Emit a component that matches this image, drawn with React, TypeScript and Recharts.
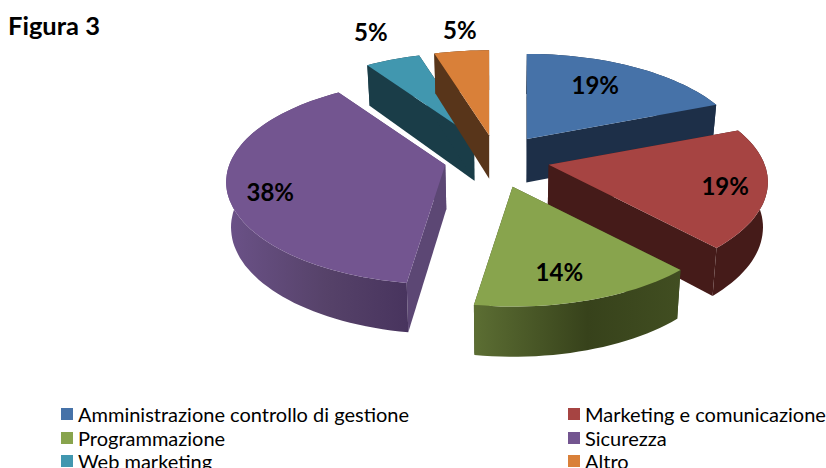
import React from "react";
import { PieChart, Pie, Legend } from "recharts";

const categories = ["Amministrazione controllo di gestione", "Marketing e comunicazione", "Programmazione", "Sicurezza", "Web marketing", "Altro"];
const counts = [4, 4, 3, 8, 1, 1];
const topColors = ["#4672A8", "#A64442", "#88A44D", "#735590", "#4197AF", "#D98039"];
const edgeColors = ["#1D2F48", "#451B19", "#3A451C", "#5C4774", "#1A3D48", "#58351A"];
const rimFrom = ["#1D2F48", "#451B19", "#5C6E33", "#6B5288", "#1A3D48", "#58351A"];
const rimMid = ["#1D2F48", "#451B19", "#37421B", "#564269", "#1A3D48", "#58351A"];
const rimTo = ["#1D2F48", "#451B19", "#414E21", "#48345E", "#1A3D48", "#58351A"];
const labelReach = [0.66, 0.82, 0.68, 0.8, 1.22, 1.17];
const labelNudgeX = [-2, -3, -5, 0, -4, 3];
const labelNudgeY = [-7, 2, 8, 8, -11, -7];
// back-to-front painting order, starting at "Web marketing"
const paintOrder = [4, 5, 0, 1, 2, 3];

const total = counts.reduce((a, b) => a + b, 0);
const table = paintOrder.map((i) => ({
  name: categories[i],
  value: counts[i],
  fill: topColors[i],
  series: i,
}));

const P = 0.17;
const TILT = 99.5 / 216;
const CX = 497;
const CY = 158;
const R = 216;

const rad = (d: number) => (d * Math.PI) / 180;
const clock = (a: number) => 90 - a;

function apexOf(cx: number, cy: number, midClock: number) {
  const c = Math.cos(rad(midClock));
  return { x: cx + 53 * Math.sin(rad(midClock)), y: cy - (c > 0 ? 23 : 30) * c };
}
function rimPoint(ap: { x: number; y: number }, r: number, t: number, reach = 1) {
  const c = Math.cos(rad(t));
  const f = 1 / (1 + P * c);
  return {
    x: ap.x + reach * r * Math.sin(rad(t)) * f,
    y: ap.y - reach * r * TILT * c * f,
  };
}
function lower(p: { x: number; y: number }, cx: number) {
  return { x: p.x + (cx - p.x) * 0.018, y: p.y + 40 + (p.y - 50) * 0.04 };
}
const toPath = (pts: { x: number; y: number }[]) =>
  "M" + pts.map((p) => `${p.x.toFixed(1)},${p.y.toFixed(1)}`).join("L") + "Z";

function Slice3D(props: any) {
  const { cx, cy, outerRadius, startAngle, endAngle, fill, payload } = props;
  const series = payload?.series ?? props.series;
  const t0 = clock(startAngle);
  const t1 = clock(endAngle);
  const ap = apexOf(cx, cy, (t0 + t1) / 2);
  const rim: { x: number; y: number }[] = [];
  const steps = Math.max(4, Math.ceil(Math.abs(t1 - t0) / 2));
  for (let i = 0; i <= steps; i++) rim.push(rimPoint(ap, outerRadius, t0 + ((t1 - t0) * i) / steps));
  const low = rim.map((p) => lower(p, cx));
  const apLow = lower(ap, cx);
  const id = `rim-${series}`;
  return (
    <g>
      <defs>
        <linearGradient id={id} x1="0" y1="0" x2="1" y2="0">
          <stop offset="0" stopColor={rimFrom[series]} />
          <stop offset="0.55" stopColor={rimMid[series]} />
          <stop offset="1" stopColor={rimTo[series]} />
        </linearGradient>
      </defs>
      <path d={toPath([ap, rim[0], low[0], apLow])} fill={edgeColors[series]} />
      <path d={toPath([ap, rim[rim.length - 1], low[low.length - 1], apLow])} fill={edgeColors[series]} />
      <path d={toPath([...rim, ...low.slice().reverse()])} fill={`url(#${id})`} />
      <path d={toPath([ap, ...rim])} fill={fill} />
    </g>
  );
}

function SliceLabel(props: any) {
  const { cx, cy, outerRadius, midAngle, payload } = props;
  const series = payload?.series ?? props.series;
  const t = clock(midAngle);
  const p = rimPoint(apexOf(cx, cy, t), outerRadius, t, labelReach[series]);
  return (
    <text x={p.x + labelNudgeX[series]} y={p.y + labelNudgeY[series]} textAnchor="middle" dominantBaseline="central" fontFamily="Lato" fontWeight={700} fontSize={24} fill="#000">
      {`${Math.round((counts[series] / total) * 100)}%`}
    </text>
  );
}

function LegendBox() {
  return (
    <div style={{ position: "relative", width: 826, height: 67, fontFamily: "Lato", fontSize: 20, color: "#000" }}>
      {categories.map((name, i) => {
        const col = i % 2;
        const row = (i - col) / 2;
        return (
          <div key={name} style={{ position: "absolute", left: col ? 568 : 61, top: 1 + row * 23.5, height: 24, lineHeight: "24px", whiteSpace: "nowrap" }}>
            <span style={{ position: "absolute", left: 0, top: 6, width: 12, height: 12, background: topColors[i] }} />
            <span style={{ position: "absolute", left: 17, top: 0 }}>{name}</span>
          </div>
        );
      })}
    </div>
  );
}

export default function App() {
  return (
    <div style={{ position: "absolute", left: 0, top: 0, width: 826, height: 468, overflow: "hidden", background: "#fff" }}>
      <div style={{ position: "absolute", left: 8, top: 10, fontFamily: "Lato", fontWeight: 700, fontSize: 25.5, color: "#000" }}>Figura 3</div>
      <PieChart width={826} height={468} margin={{ top: 0, right: 0, bottom: 0, left: 0 }}>
        <Pie
          data={table}
          dataKey="value"
          nameKey="name"
          cx={CX}
          cy={CY}
          outerRadius={R}
          innerRadius={0}
          startAngle={124.29}
          endAngle={-235.71}
          stroke="none"
          isAnimationActive={false}
          shape={Slice3D}
          label={SliceLabel}
          labelLine={false}
        />
        <Legend
          content={() => <LegendBox />}
          wrapperStyle={{ left: 0, top: 401, width: 826, height: 67, bottom: "auto" }}
        />
      </PieChart>
    </div>
  );
}
